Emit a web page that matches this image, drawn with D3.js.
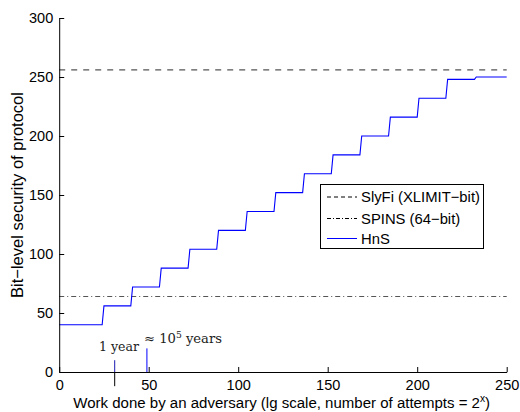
<!DOCTYPE html>
<html>
<head>
<meta charset="utf-8">
<script src="https://cdn.jsdelivr.net/npm/d3@7"></script>
<style>
  body { margin: 0; background: #fff; }
  svg { display: block; font-family: "Liberation Sans", Arial, Helvetica, sans-serif; }
</style>
</head>
<body>
<svg id="chart" width="520" height="412"></svg>
<script>
// ---- data ----
const xTicks = [0, 50, 100, 150, 200, 250];
const yTicks = [0, 50, 100, 150, 200, 250, 300];
// HnS staircase: level start x, level end x, level value
const hnsStart = [0, 25, 41, 57, 73, 89, 105, 121, 137, 153, 169, 185, 201, 217, 233];
const hnsEnd   = [24, 40, 56, 72, 88, 104, 120, 136, 152, 168, 184, 200, 216, 232, 250];
const hnsLevel = [40, 56, 72, 88, 104, 120, 136, 152, 168, 184, 200, 216, 232, 248, 250];
const slyfiLevel = 256;
const spinsLevel = 64;
const seriesNames = ["SlyFi (XLIMIT\u2212bit)", "SPINS (64\u2212bit)", "HnS"];
const markers = [
  { x: 31, top: 10, bottom: -12, label: "1 year" },
  { x: 49, top: 20, bottom: 0, label: "\u2248 10", sup: "5", rest: " years" }
];

// ---- layout ----
const svg = d3.select("#chart");
const x = d3.scaleLinear().domain([0, 250]).range([59.2, 506.7]);
const y = d3.scaleLinear().domain([0, 300]).range([372, 18]);

function fit(sel, target, base) {
  const w = sel.node().getComputedTextLength();
  if (w > 0) sel.style("font-size", (base * target / w).toFixed(2) + "px");
}

// reference lines
const hline = (lvl) => d3.line()([[x(0), y(lvl)], [x(250), y(lvl)]]);
svg.append("path").attr("d", hline(slyfiLevel))
  .attr("stroke", "#555").attr("stroke-width", 1.2).attr("fill", "none")
  .attr("stroke-dasharray", "6,6");
svg.append("path").attr("d", hline(spinsLevel))
  .attr("stroke", "#555").attr("stroke-width", 1.2).attr("fill", "none")
  .attr("stroke-dasharray", "5,3,1,3");

// HnS
const pts = [];
hnsStart.forEach((s, i) => { pts.push([s, hnsLevel[i]]); pts.push([hnsEnd[i], hnsLevel[i]]); });
const line = d3.line().x(d => x(d[0])).y(d => y(d[1]));
svg.append("path").datum(pts).attr("d", line)
  .attr("stroke", "#0000ff").attr("stroke-width", 1.1).attr("fill", "none");

// markers
markers.forEach((m, i) => {
  if (m.bottom < 0) {
    svg.append("line").attr("x1", x(m.x)).attr("x2", x(m.x))
      .attr("y1", y(m.bottom)).attr("y2", y(0))
      .attr("stroke", "#000").attr("stroke-width", 1);
  }
  svg.append("line").attr("x1", x(m.x)).attr("x2", x(m.x))
    .attr("y1", y(0)).attr("y2", y(m.top))
    .attr("stroke", i === 0 ? "#1a1ab0" : "#0000ff").attr("stroke-width", 1);
});
const serif = '"DejaVu Serif", "Liberation Serif", serif';
const t1 = svg.append("text").attr("x", 99).attr("y", 351)
  .style("font-family", serif).style("font-size", "12px").attr("fill", "#222")
  .text(markers[0].label);
fit(t1, 40, 12);
const t2 = svg.append("text").attr("x", 144).attr("y", 343)
  .style("font-family", serif).style("font-size", "12px").attr("fill", "#222");
t2.append("tspan").text(markers[1].label);
t2.append("tspan").attr("dy", -5).style("font-size", "0.7em").text(markers[1].sup);
t2.append("tspan").attr("dy", 5).text(markers[1].rest);
fit(t2, 78, 12);

// axes
const xAxis = d3.axisBottom(x).tickValues(xTicks).tickSizeInner(-5).tickSizeOuter(0).tickPadding(8);
const yAxis = d3.axisLeft(y).tickValues(yTicks).tickSizeInner(-5).tickSizeOuter(0).tickPadding(6);
const gx = svg.append("g").attr("transform", `translate(0,${y(0)})`).call(xAxis);
const gy = svg.append("g").attr("transform", `translate(${x(0)},0)`).call(yAxis);
[gx, gy].forEach(g => {
  g.attr("font-family", null).attr("font-size", null);
  g.selectAll("text").style("font-size", "14.5px").attr("fill", "#000");
  g.selectAll("line,path").attr("stroke", "#000");
});

// axis labels
const xl = svg.append("text").attr("x", 281.7).attr("y", 408).attr("text-anchor", "middle")
  .style("font-size", "14px").attr("fill", "#000");
xl.append("tspan").text("Work done by an adversary (lg scale, number of attempts = 2");
xl.append("tspan").attr("dy", -6).style("font-size", "0.68em").text("x");
xl.append("tspan").attr("dy", 6).text(")");
fit(xl, 417, 14);
const yl = svg.append("text").attr("transform", "translate(23,195) rotate(-90)")
  .attr("text-anchor", "middle").style("font-size", "14px").attr("fill", "#000")
  .text("Bit\u2212level security of protocol");
fit(yl, 206, 14);

// legend
const lg = svg.append("g");
lg.append("rect").attr("x", 320.5).attr("y", 184.5).attr("width", 163).attr("height", 64)
  .attr("fill", "#fff").attr("stroke", "#000").attr("stroke-width", 1);
const rowsY = [197, 218.5, 238.5];
const styles = [
  { c: "#000", d: "4,3" },
  { c: "#000", d: "4,2,1,2" },
  { c: "#0000ff", d: null }
];
let legendSize = 14;
seriesNames.forEach((n, i) => {
  const l = lg.append("line").attr("x1", 327).attr("x2", 357).attr("y1", rowsY[i]).attr("y2", rowsY[i])
    .attr("stroke", styles[i].c).attr("stroke-width", 1);
  if (styles[i].d) l.attr("stroke-dasharray", styles[i].d);
  const t = lg.append("text").attr("x", 361).attr("y", rowsY[i] + 5)
    .style("font-size", "14px").attr("fill", "#000").text(n);
  if (i === 0) {
    legendSize = 14 * 119 / t.node().getComputedTextLength();
  }
});
lg.selectAll("text").style("font-size", legendSize.toFixed(2) + "px");
</script>
</body>
</html>
